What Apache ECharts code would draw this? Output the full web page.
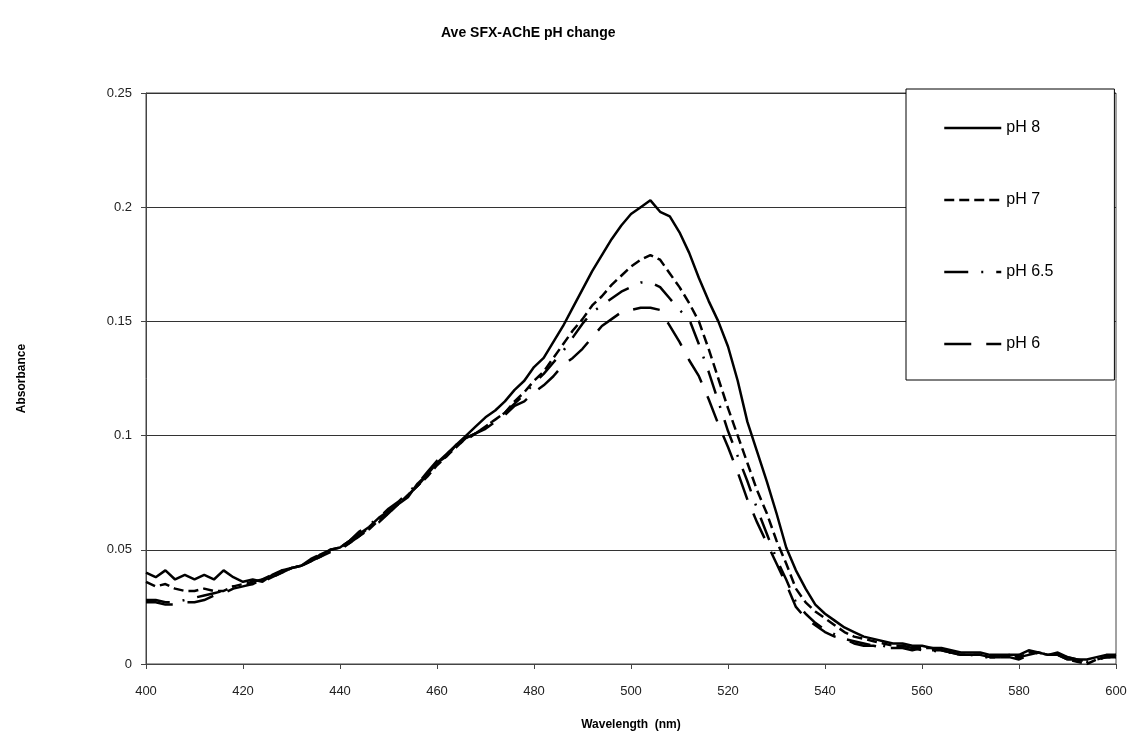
<!DOCTYPE html>
<html>
<head>
<meta charset="utf-8">
<script src="https://cdn.jsdelivr.net/npm/echarts@6/dist/echarts.min.js"></script>
<style>html,body{margin:0;padding:0;background:#fff}#c{width:1131px;height:736px}</style>
</head>
<body>
<div id="c"></div>
<script>
// Wavelength grid (nm), 2 nm step from 400 to 600
const wavelengths = [];
for (let w = 400; w <= 600; w += 2) wavelengths.push(w);

const seriesNames = ['pH 8', 'pH 7', 'pH 6.5', 'pH 6'];

const pH8 = [
  .040,.038,.041,.037,.039,.037,.039,.037,.041,.038,
  .036,.037,.036,.039,.041,.042,.043,.045,.048,.050,
  .051,.054,.057,.060,.064,.067,.070,.073,.079,.083,
  .088,.091,.096,.100,.104,.108,.111,.115,.120,.124,
  .130,.134,.141,.148,.156,.164,.172,.179,.186,.192,
  .197,.200,.203,.198,.196,.189,.180,.169,.159,.150,
  .139,.124,.106,.093,.080,.066,.051,.041,.033,.026,
  .022,.019,.016,.014,.012,.011,.010,.009,.009,.008,
  .008,.007,.007,.006,.005,.005,.005,.004,.004,.004,
  .004,.006,.005,.004,.005,.003,.002,.002,.003,.004,
  .004
];
const pH7 = [
  .036,.034,.035,.033,.032,.032,.033,.032,.032,.034,
  .035,.035,.037,.038,.040,.042,.043,.045,.047,.050,
  .051,.053,.056,.059,.063,.066,.070,.074,.078,.082,
  .087,.091,.095,.099,.101,.104,.107,.110,.115,.119,
  .124,.128,.134,.140,.146,.151,.157,.161,.166,.170,
  .174,.177,.179,.177,.171,.165,.158,.150,.138,.125,
  .112,.100,.088,.076,.066,.054,.044,.033,.027,.023,
  .020,.017,.014,.012,.011,.010,.009,.008,.008,.007,
  .007,.007,.006,.005,.004,.004,.004,.003,.003,.004,
  .003,.005,.005,.004,.004,.002,.001,.000,.002,.003,
  .003
];
const pH65 = [
  .028,.028,.027,.027,.028,.029,.030,.031,.032,.034,
  .035,.036,.037,.039,.041,.042,.043,.046,.048,.050,
  .051,.054,.058,.061,.064,.068,.071,.075,.079,.084,
  .089,.092,.095,.099,.101,.104,.107,.110,.114,.118,
  .123,.127,.132,.137,.143,.149,.154,.157,.160,.163,
  .165,.167,.167,.165,.160,.155,.151,.140,.128,.115,
  .102,.091,.080,.068,.057,.046,.037,.027,.022,.018,
  .015,.013,.011,.010,.009,.008,.008,.007,.008,.007,
  .006,.006,.005,.005,.004,.004,.003,.003,.003,.003,
  .002,.004,.005,.004,.004,.002,.002,.001,.002,.003,
  .003
];
const pH6 = [
  .027,.027,.026,.026,.027,.027,.028,.030,.031,.033,
  .034,.035,.036,.038,.040,.042,.043,.045,.047,.049,
  .050,.053,.056,.060,.062,.066,.070,.074,.078,.083,
  .088,.092,.096,.098,.101,.103,.106,.109,.113,.115,
  .119,.122,.126,.131,.134,.138,.143,.148,.151,.154,
  .155,.156,.156,.155,.148,.141,.133,.126,.116,.105,
  .095,.084,.072,.062,.053,.044,.035,.025,.020,.017,
  .014,.012,.011,.009,.008,.008,.007,.007,.007,.006,
  .007,.006,.006,.005,.004,.004,.004,.003,.003,.003,
  .003,.004,.005,.004,.004,.003,.002,.001,.002,.003,
  .004
];

const yTicks = { min: 0, max: 0.25, interval: 0.05 };
const xTicks = { min: 400, max: 600, interval: 20 };

const allValues = [pH8, pH7, pH65, pH6];
const dashes = ['solid', [10, 5], [24, 13, 2, 13], [27, 15]];

const font = 'Liberation Sans, Arial, sans-serif';

const chart = echarts.init(document.getElementById('c'), null, { renderer: 'canvas' });
chart.setOption({
  animation: false,
  backgroundColor: '#fff',
  title: {
    text: 'Ave SFX-AChE pH change',
    left: 436, top: 21,
    textStyle: { fontFamily: font, fontSize: 14, fontWeight: 'bold', color: '#000' }
  },
  legend: {
    orient: 'vertical',
    left: 906, top: 89,
    padding: [31, 61, 28, 37],
    itemWidth: 57, itemHeight: 14, itemGap: 56,
    backgroundColor: '#fff',
    borderColor: '#000', borderWidth: 1,
    itemStyle: { opacity: 0 },
    lineStyle: { width: 2.5 },
    textStyle: { fontFamily: font, fontSize: 16, color: '#000' },
    data: seriesNames
  },
  grid: {
    left: 146, right: 15, top: 93, bottom: 71,
    show: true, borderColor: '#444', borderWidth: 1
  },
  xAxis: {
    type: 'value',
    min: xTicks.min, max: xTicks.max, interval: xTicks.interval,
    name: 'Wavelength  (nm)', nameLocation: 'middle', nameGap: 55,
    nameTextStyle: { fontFamily: font, fontSize: 12, fontWeight: 'bold', color: '#000' },
    axisLine: { lineStyle: { color: '#444', width: 1 } },
    axisTick: { show: true, inside: false, length: 5, lineStyle: { color: '#444' } },
    axisLabel: { fontFamily: font, fontSize: 13, color: '#222', margin: 21 },
    splitLine: { show: false }
  },
  yAxis: {
    type: 'value',
    min: yTicks.min, max: yTicks.max, interval: yTicks.interval,
    name: 'Absorbance', nameLocation: 'middle', nameGap: 118,
    nameTextStyle: { fontFamily: font, fontSize: 12, fontWeight: 'bold', color: '#000' },
    axisLine: { show: true, lineStyle: { color: '#444', width: 1 } },
    axisTick: { show: true, inside: false, length: 5, lineStyle: { color: '#444' } },
    axisLabel: { fontFamily: font, fontSize: 13, color: '#222', margin: 14 },
    splitLine: { show: true, lineStyle: { color: '#333', width: 1 } }
  },
  series: seriesNames.map((name, i) => ({
    name: name,
    type: 'line',
    showSymbol: false,
    symbol: 'none',
    smooth: false,
    data: wavelengths.map((w, j) => [w, allValues[i][j]]),
    lineStyle: { color: '#000', width: 2.5, type: dashes[i], cap: 'butt' },
    itemStyle: { color: '#000' }
  }))
});
</script>
</body>
</html>
